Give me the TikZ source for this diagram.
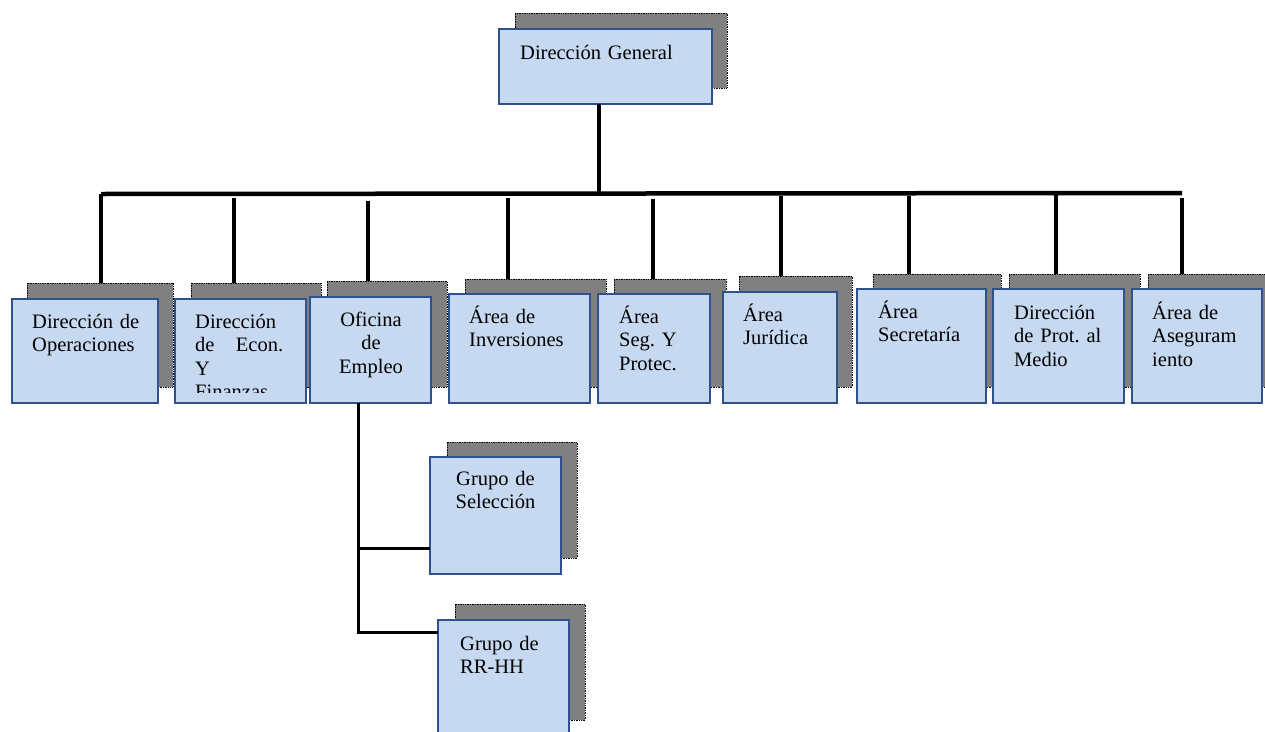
\documentclass[tikz,border=0pt]{standalone}
\usepackage{fontspec}
\setmainfont{Liberation Serif}
\definecolor{boxfill}{HTML}{C6D9F1}
\definecolor{boxline}{HTML}{2F528F}
\definecolor{shadowgray}{HTML}{808080}

\begin{document}
\begin{tikzpicture}[
        x=1pt, y=-1pt,
        orgbox/.style={rectangle, fill=boxfill, draw=boxline, line width=1.6pt,
            inner sep=0pt, outer sep=0pt},
        orgshadow/.style={rectangle, fill=shadowgray, draw=black, densely dotted,
            line width=0.7pt, inner sep=0pt, outer sep=0pt},
        orgtext/.style={font=\fontsize{20.5}{23.5}\selectfont\frenchspacing, inner sep=0pt,
            text width=110pt, align=left, anchor=base west},
        trunk/.style={black, line width=4.5pt},
        drop/.style={black, line width=3.3pt},
    ]
    \clip (0,0) rectangle (1265,731);
    % shadows
    \node[orgshadow, minimum width=212pt, minimum height=75pt] (dg_s) at (621,50.5) {};
    \node[orgshadow, minimum width=146pt, minimum height=104pt] (op_s) at (100,335) {};
    \node[orgshadow, minimum width=130pt, minimum height=104pt] (ec_s) at (256,335) {};
    \node[orgshadow, minimum width=120pt, minimum height=106pt] (of_s) at (387,334) {};
    \node[orgshadow, minimum width=141pt, minimum height=108pt] (in_s) at (535.5,333) {};
    \node[orgshadow, minimum width=112pt, minimum height=108pt] (sp_s) at (670,333) {};
    \node[orgshadow, minimum width=113pt, minimum height=111pt] (ju_s) at (795.5,331.5) {};
    \node[orgshadow, minimum width=128pt, minimum height=113pt] (se_s) at (937,330.5) {};
    \node[orgshadow, minimum width=131pt, minimum height=113pt] (me_s) at (1074.5,330.5) {};
    \node[orgshadow, minimum width=130pt, minimum height=113pt] (as_s) at (1213,330.5) {};
    \node[orgshadow, minimum width=130pt, minimum height=116pt] (gs_s) at (512,500) {};
    \node[orgshadow, minimum width=130pt, minimum height=116pt] (gr_s) at (520,662) {};
    % boxes
    \node[orgbox, minimum width=213pt, minimum height=75pt] (dg) at (605.5,66.5) {};
    \node[orgbox, minimum width=146pt, minimum height=104pt] (op) at (85,351) {};
    \node[orgbox, minimum width=131pt, minimum height=104pt] (ec) at (240.5,351) {};
    \node[orgbox, minimum width=121pt, minimum height=106pt] (of) at (370.5,350) {};
    \node[orgbox, minimum width=141pt, minimum height=109pt] (in) at (519.5,348.5) {};
    \node[orgbox, minimum width=112pt, minimum height=109pt] (sp) at (654,348.5) {};
    \node[orgbox, minimum width=114pt, minimum height=111pt] (ju) at (780,347.5) {};
    \node[orgbox, minimum width=129pt, minimum height=114pt] (se) at (921.5,346) {};
    \node[orgbox, minimum width=131pt, minimum height=114pt] (me) at (1058.5,346) {};
    \node[orgbox, minimum width=130pt, minimum height=114pt] (as) at (1197,346) {};
    \node[orgbox, minimum width=131pt, minimum height=117pt] (gs) at (495.5,515.5) {};
    \node[orgbox, minimum width=131pt, minimum height=140pt] (gr) at (503.5,690) {};
    % texts
    \node[orgtext, text width=180pt] (dg_t) at (520,59) {Dirección General};
    \node[orgtext] (op_t) at (32,328) {Dirección de\\Operaciones};
    \begin{scope}
        \clip (176,300) rectangle (305,392);
        \node[orgtext, text width=88pt] (ec_t) at (195,328) {Dirección\\de\hfill Econ.\\Y\\Finanzas};
    \end{scope}
    \node[orgtext, align=center, anchor=base] (of_t) at (371,326) {Oficina\\de\\Empleo};
    \node[orgtext] (in_t) at (469,323) {Área de\\Inversiones};
    \node[orgtext] (sp_t) at (619,323) {Área\\Seg. Y\\Protec.};
    \node[orgtext] (ju_t) at (743,321) {Área\\Jurídica};
    \node[orgtext] (se_t) at (878,318) {Área\\Secretaría};
    \node[orgtext] (me_t) at (1014,319) {Dirección\\de Prot. al\\Medio};
    \node[orgtext] (as_t) at (1152,319) {Área de\\Aseguram\\iento};
    \node[orgtext, align=center, anchor=base] (gs_t) at (495.5,485) {Grupo de\\Selección};
    \node[orgtext] (gr_t) at (460,650) {Grupo de\\RR-HH};
    % trunk and bus
    \coordinate (hub) at (599,193);
    \coordinate (busL) at (101,194);
    \coordinate (busR) at (1182,193);
    \draw[trunk] (hub |- dg.south) -- (hub);
    \draw[trunk] (busL) -- (busR);
    % drops to the second row
    \coordinate (d2) at (234,198);
    \coordinate (d3) at (368,201);
    \coordinate (d4) at (508,198);
    \coordinate (d5) at (653,199);
    \coordinate (d6) at (781,196);
    \coordinate (d7) at (909,196);
    \coordinate (d8) at (1056,194);
    \coordinate (d9) at (1182,198);
    \draw[drop] (busL) -- (busL |- op_s.north);
    \draw[drop] (d2) -- (d2 |- ec_s.north);
    \draw[drop] (d3) -- (d3 |- of_s.north);
    \draw[drop] (d4) -- (d4 |- in_s.north);
    \draw[drop] (d5) -- (d5 |- sp_s.north);
    \draw[drop] (d6) -- (d6 |- ju_s.north);
    \draw[drop] (d7) -- (d7 |- se_s.north);
    \draw[drop] (d8) -- (d8 |- me_s.north);
    \draw[drop] (d9) -- (d9 |- as_s.north);
    % groups under Oficina de Empleo
    \coordinate (k1) at (358,548);
    \coordinate (k2) at (358,632);
    \draw[drop, line width=3pt] (k2 |- of.south) -- (k2) -- (k2 -| gr.west);
    \draw[drop, line width=3pt] (k1) -- (k1 -| gs.west);
\end{tikzpicture}
\end{document}
